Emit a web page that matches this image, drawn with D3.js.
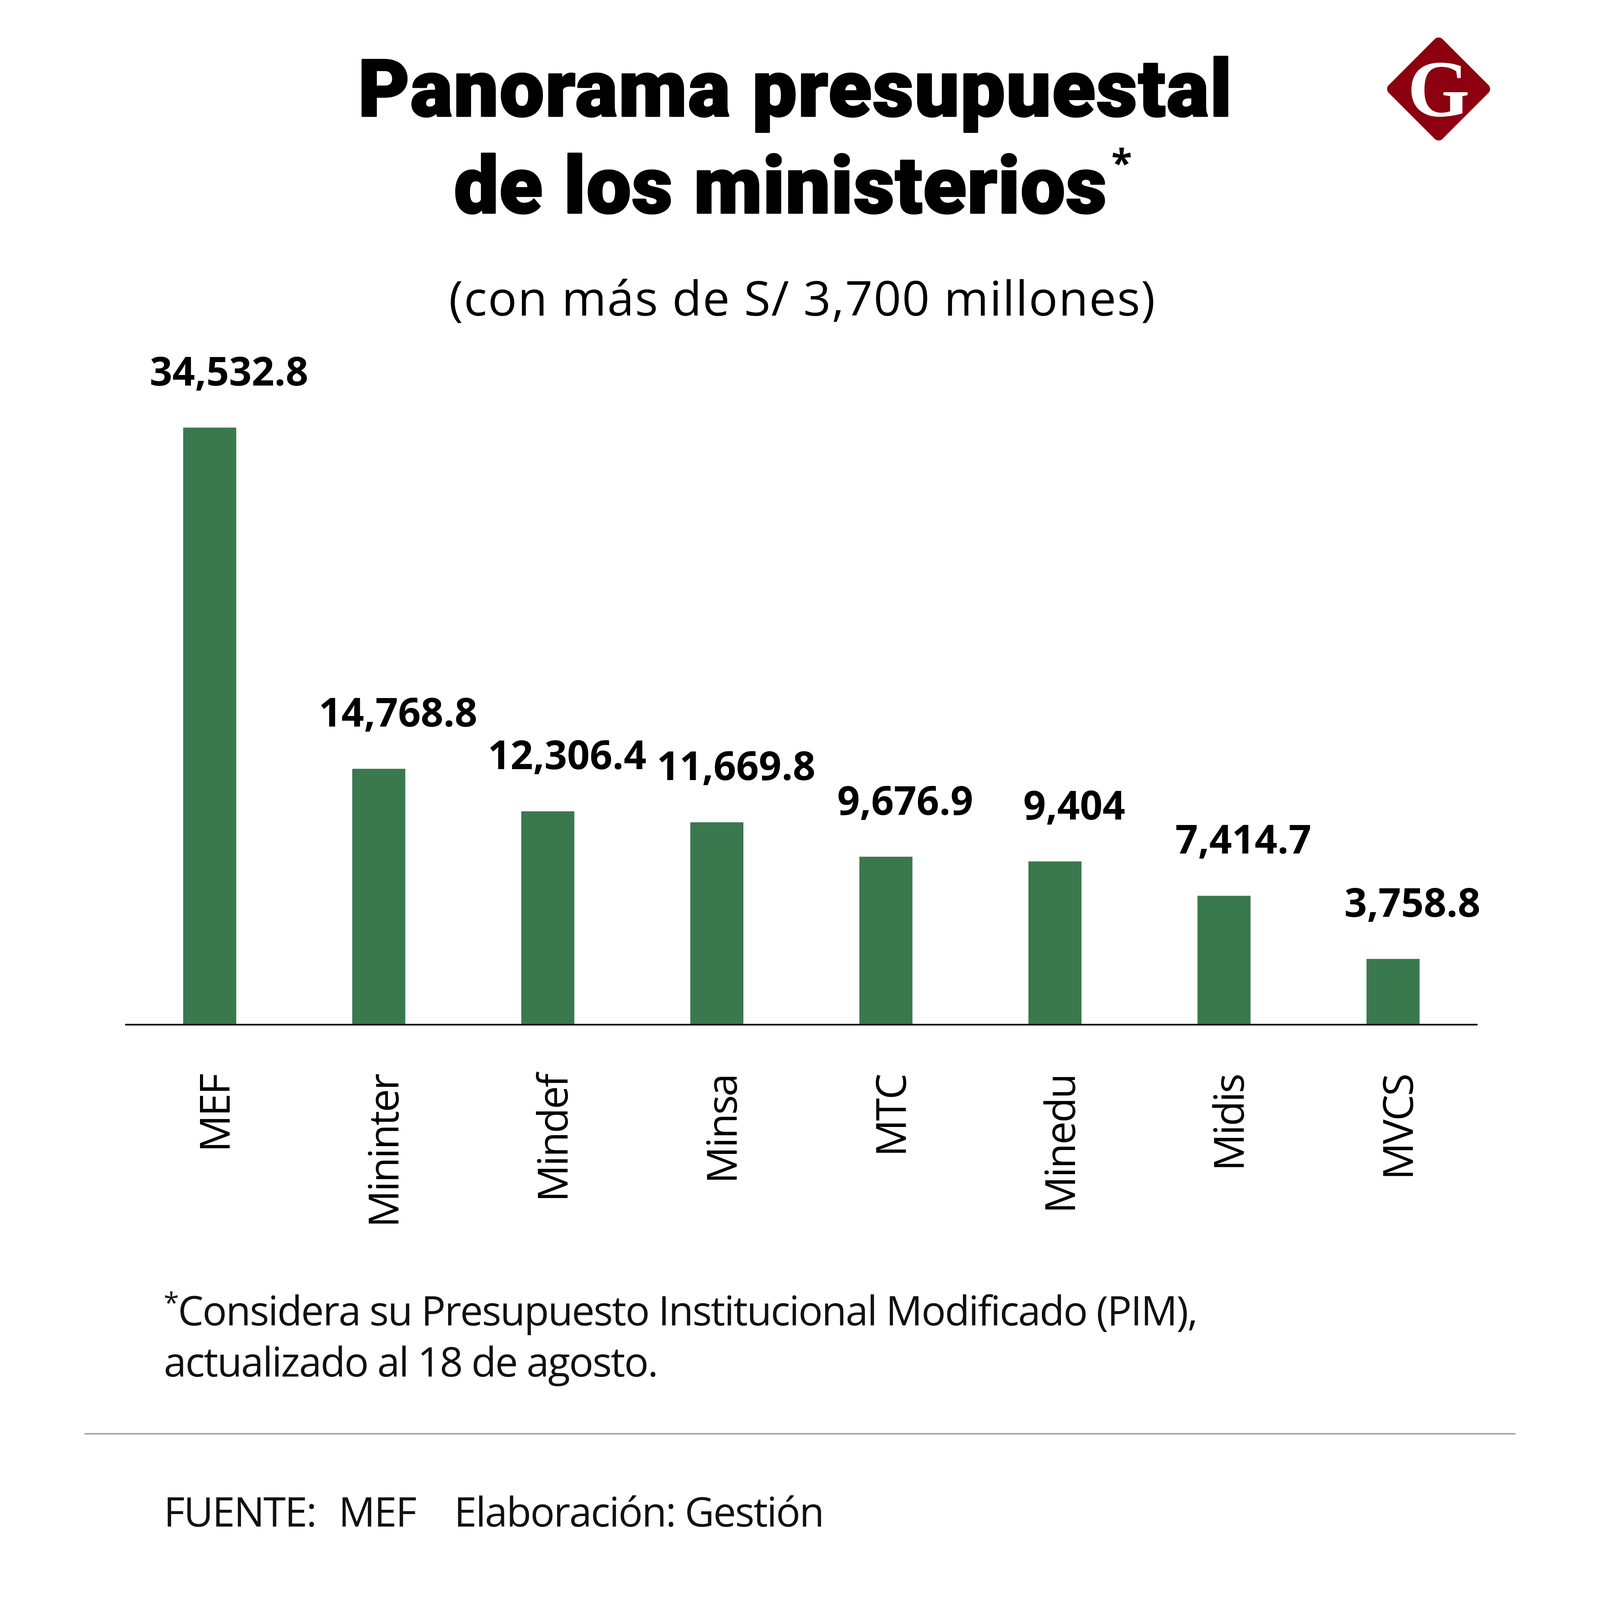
<!DOCTYPE html>
<html>
<head>
<meta charset="utf-8">
<script src="https://cdn.jsdelivr.net/npm/d3@7"></script>
<style>
  html, body { margin: 0; padding: 0; background: #fff; overflow: hidden; }
  svg { display: block; }
</style>
</head>
<body>
<div id="chart"></div>
<script>
// data (millones de soles, PIM)
var categories = ["MEF", "Mininter", "Mindef", "Minsa", "MTC", "Minedu", "Midis", "MVCS"];
var values = [34532.8, 14768.8, 12306.4, 11669.8, 9676.9, 9404, 7414.7, 3758.8];

var titleLines = ["Panorama presupuestal", "de los ministerios"];
var subtitle = "(con más de S/ 3,700 millones)";
var noteLines = ["Considera su Presupuesto Institucional Modificado (PIM),", "actualizado al 18 de agosto."];
var sourceParts = ["FUENTE:", "MEF", "Elaboración: Gestión"];

var width = 4150, height = 4640;  // design size; scaled to whatever window we get
var barColor = "#3a784e";
var font = "'Open Sans', 'Noto Sans', sans-serif";

var svg = d3.select("#chart").append("svg")
    .attr("width", window.innerWidth)
    .attr("height", window.innerHeight)
    .attr("viewBox", "0 0 " + width + " " + height)
    .attr("preserveAspectRatio", "xMidYMid meet");

svg.append("rect").attr("width", width).attr("height", height).attr("fill", "#fff");

// squeeze/stretch letter spacing so a line takes the width it has in the picture
function fitText(sel, target) {
  var node = sel.node();
  var w = node.getComputedTextLength();
  var n = node.textContent.length;
  sel.attr("letter-spacing", (target - w) / n);
}

// --- title ---
var t1 = svg.append("text")
    .attr("x", 2062).attr("y", 337)
    .attr("text-anchor", "middle")
    .style("font-family", "Roboto, sans-serif").style("font-weight", 900)
    .style("font-size", "230px")
    .attr("stroke", "#000").attr("stroke-width", 5).attr("stroke-linejoin", "round")
    .text(titleLines[0]);
fitText(t1, 2537);

var t2 = svg.append("text")
    .attr("x", 2019).attr("y", 617)
    .attr("text-anchor", "middle")
    .style("font-family", "Roboto, sans-serif").style("font-weight", 900)
    .style("font-size", "230px")
    .attr("stroke", "#000").attr("stroke-width", 5).attr("stroke-linejoin", "round")
    .text(titleLines[1]);
fitText(t2, 1895);
svg.append("text")
    .attr("x", 2978).attr("y", 512)
    .style("font-family", font).style("font-weight", 700)
    .style("font-size", "110px")
    .text("*");

var st = svg.append("text")
    .attr("x", 2082).attr("y", 915)
    .attr("text-anchor", "middle")
    .style("font-family", font).style("font-weight", 400)
    .style("font-size", "140px")
    .text(subtitle);
fitText(st, 2051);

// --- logo ---
var logo = svg.append("g").attr("transform", "translate(3927,258)");
var side = 156 * Math.SQRT2;
logo.append("rect")
    .attr("x", -side / 2).attr("y", -side / 2)
    .attr("width", side).attr("height", side)
    .attr("rx", 16).attr("ry", 16)
    .attr("transform", "rotate(45)")
    .attr("fill", "#8c0010");
logo.append("text")
    .attr("x", 0).attr("y", 78)
    .attr("text-anchor", "middle")
    .style("font-family", "'Liberation Serif', 'DejaVu Serif', serif")
    .style("font-weight", 700)
    .style("font-size", "232px")
    .attr("fill", "#fff")
    .text("G");

// --- bars ---
var x = d3.scaleBand()
    .domain(categories)
    .range([118, 4040])
    .paddingInner(0.686)
    .paddingOuter(0.343);

var y = d3.scaleLinear()
    .domain([0, d3.max(values)])
    .range([2969, 1240]);

var data = categories.map(function(c, i) { return {name: c, value: values[i]}; });
var fmt = d3.format(",");

svg.selectAll("rect.bar")
  .data(data)
  .enter()
  .append("rect")
    .attr("class", "bar")
    .attr("x", function(d) { return x(d.name); })
    .attr("y", function(d) { return y(d.value); })
    .attr("width", x.bandwidth())
    .attr("height", function(d) { return y(0) - y(d.value); })
    .attr("fill", barColor);

svg.selectAll("text.val")
  .data(data)
  .enter()
  .append("text")
    .attr("class", "val")
    .attr("x", function(d) { return x(d.name) + x.bandwidth() / 2 + 56; })
    .attr("y", function(d) { return y(d.value) - 122; })
    .attr("text-anchor", "middle")
    .style("font-family", font).style("font-weight", 700)
    .style("font-size", "115px")
    .text(function(d) { return fmt(d.value); });

// x axis: baseline + rotated category names
var xAxis = d3.axisBottom(x).tickSize(0).tickPadding(0);
var gx = svg.append("g")
    .attr("transform", "translate(0," + y(0) + ")")
    .call(xAxis);
gx.select(".domain")
    .attr("d", "M118,2.5H4040")
    .attr("stroke", "#000")
    .attr("stroke-width", 5);
gx.selectAll(".tick text")
    .attr("transform", "rotate(-90)")
    .attr("x", -148)
    .attr("y", 0)
    .attr("dy", "0.48em")
    .attr("text-anchor", "end")
    .attr("fill", "#000")
    .attr("letter-spacing", -4)
    .style("font-family", font).style("font-weight", 400)
    .style("font-size", "120px");

// --- footnote ---
var n2 = svg.append("text")
    .attr("x", 230).attr("y", 3992)
    .style("font-family", font).style("font-weight", 400)
    .style("font-size", "118px")
    .attr("fill", "#111")
    .text(noteLines[1]);
fitText(n2, 1431);

var n1 = svg.append("text")
    .attr("x", 230).attr("y", 3844)
    .style("font-family", font).style("font-weight", 400)
    .style("font-size", "118px")
    .attr("fill", "#111")
    .attr("letter-spacing", n2.attr("letter-spacing"));
n1.append("tspan").attr("dy", -38).style("font-size", "80px").text("*");
n1.append("tspan").attr("dy", 38).text(noteLines[0]);

svg.append("line")
    .attr("x1", 0).attr("x2", width)
    .attr("y1", 4158).attr("y2", 4158)
    .attr("stroke", "#9a9a9a")
    .attr("stroke-width", 4);

var srcX = [230, 737, 1072];
var src = svg.append("text")
    .attr("y", 4427)
    .style("font-family", font).style("font-weight", 400)
    .style("font-size", "118px")
    .attr("fill", "#111")
    .attr("letter-spacing", n2.attr("letter-spacing"));
src.selectAll("tspan")
  .data(sourceParts)
  .enter()
  .append("tspan")
    .attr("x", function(d, i) { return srcX[i]; })
    .text(function(d) { return d; });
</script>
</body>
</html>
